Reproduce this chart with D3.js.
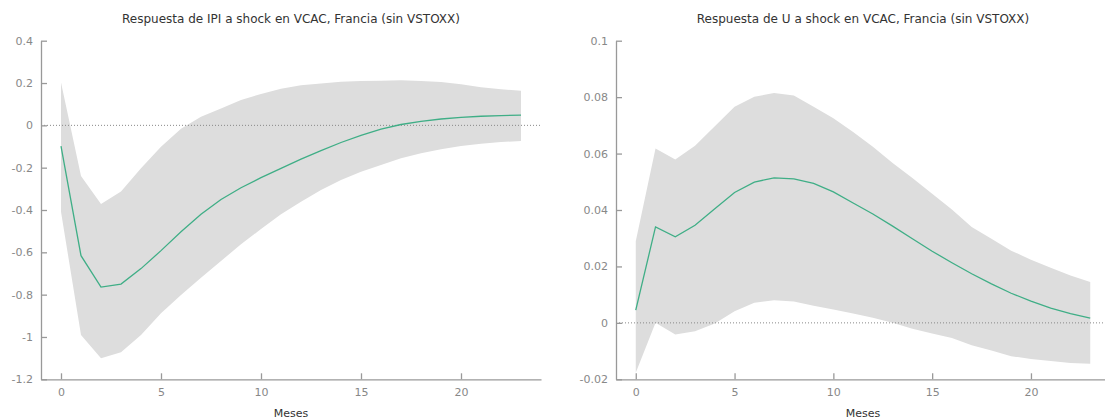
<!DOCTYPE html>
<meta charset='utf-8'>
<head>
  <title>Respuesta a shock en VCAC, Francia</title>
  <style>
    body { margin: 0; background: #fff; }
    svg { display: block; overflow: hidden; }
    text { font-family: 'DejaVu Sans', Verdana, sans-serif; }
  </style>
</head>
<body>
  <div id='chart'></div>
</body>
<script src='https://d3js.org/d3.v7.min.js'></script>
<script>

// horizonte en meses
var meses = d3.range(24);
var xTicks = [0, 5, 10, 15, 20];

// respuesta de IPI
var ipiMedia = [-0.098, -0.616, -0.764, -0.750, -0.677, -0.592, -0.503, -0.420, -0.350, -0.295,
                -0.247, -0.203, -0.160, -0.119, -0.081, -0.047, -0.018, 0.004, 0.019, 0.030,
                0.038, 0.043, 0.046, 0.048];
var ipiSup = [0.203, -0.239, -0.372, -0.313, -0.203, -0.101, -0.016, 0.041, 0.080, 0.120,
              0.148, 0.173, 0.189, 0.198, 0.206, 0.209, 0.211, 0.213, 0.209, 0.205,
              0.194, 0.180, 0.170, 0.164];
var ipiInf = [-0.408, -0.991, -1.101, -1.072, -0.991, -0.888, -0.802, -0.720, -0.641, -0.562,
              -0.490, -0.420, -0.361, -0.306, -0.258, -0.219, -0.187, -0.156, -0.132, -0.113,
              -0.098, -0.087, -0.079, -0.074];
var ipiTicks = [-1.2, -1, -0.8, -0.6, -0.4, -0.2, 0, 0.2, 0.4];

// respuesta de U
var uMedia = [0.0045, 0.0340, 0.0305, 0.0346, 0.0404, 0.0462, 0.0499, 0.0514, 0.0510, 0.0494,
              0.0464, 0.0425, 0.0386, 0.0343, 0.0298, 0.0254, 0.0213, 0.0174, 0.0138, 0.0105,
              0.0077, 0.0052, 0.0033, 0.0017];
var uSup = [0.0289, 0.0618, 0.0579, 0.0628, 0.0697, 0.0766, 0.0801, 0.0815, 0.0806, 0.0766,
            0.0725, 0.0676, 0.0624, 0.0567, 0.0513, 0.0458, 0.0402, 0.0340, 0.0298, 0.0256,
            0.0224, 0.0195, 0.0168, 0.0145];
var uInf = [-0.0177, 0.0000, -0.0041, -0.0030, -0.0002, 0.0041, 0.0071, 0.0080, 0.0076, 0.0061,
            0.0047, 0.0033, 0.0018, 0.0000, -0.0021, -0.0038, -0.0054, -0.0079, -0.0098, -0.0118,
            -0.0128, -0.0135, -0.0142, -0.0145];
var uTicks = [-0.02, 0, 0.02, 0.04, 0.06, 0.08, 0.1];

var width = 1105,
    height = 419,
    plotTop = 40.7,
    plotBottom = 379.3;

var svg = d3.select('#chart').append('svg')
    .attr('width', width)
    .attr('height', height);

var panels = [
  { title: 'Respuesta de IPI a shock en VCAC, Francia (sin VSTOXX)',
    left: 41, right: 541, media: ipiMedia, sup: ipiSup, inf: ipiInf,
    yDomain: [-1.2, 0.4], yTicks: ipiTicks },
  { title: 'Respuesta de U a shock en VCAC, Francia (sin VSTOXX)',
    left: 616, right: 1110, media: uMedia, sup: uSup, inf: uInf,
    yDomain: [-0.02, 0.1], yTicks: uTicks }
];

panels.forEach(function(p) {
  var x = d3.scaleLinear().domain([-1, 24]).range([p.left, p.right]),
      y = d3.scaleLinear().domain(p.yDomain).range([plotBottom, plotTop]);

  var g = svg.append('g');

  var rows = meses.map(function(m, i) {
    return { m: m, media: p.media[i], sup: p.sup[i], inf: p.inf[i] };
  });

  g.append('path')
      .datum(rows)
      .attr('fill', '#dddddd')
      .attr('d', d3.area()
          .x(function(d) { return x(d.m); })
          .y0(function(d) { return y(d.inf); })
          .y1(function(d) { return y(d.sup); }));

  g.append('line')
      .attr('x1', p.left).attr('x2', p.right)
      .attr('y1', y(0)).attr('y2', y(0))
      .attr('stroke', '#888')
      .attr('stroke-width', 1)
      .attr('stroke-dasharray', '1,2');

  g.append('path')
      .datum(rows)
      .attr('fill', 'none')
      .attr('stroke', '#3fae86')
      .attr('stroke-width', 1.3)
      .attr('d', d3.line()
          .x(function(d) { return x(d.m); })
          .y(function(d) { return y(d.media); }));

  var yAxis = g.append('g')
      .attr('transform', 'translate(' + p.left + ',0)')
      .call(d3.axisLeft(y).tickValues(p.yTicks).tickSize(-6).tickSizeOuter(0)
          .tickPadding(8).tickFormat(function(d) { return String(d); }));

  var xAxis = g.append('g')
      .attr('transform', 'translate(0,' + plotBottom + ')')
      .call(d3.axisBottom(x).tickValues(xTicks).tickSize(-6).tickSizeOuter(0)
          .tickPadding(9));

  [yAxis, xAxis].forEach(function(a) {
    a.select('.domain').attr('stroke', '#999').attr('stroke-width', 1.3);
    a.selectAll('.tick line').attr('stroke', '#999').attr('stroke-width', 1.3);
    a.selectAll('.tick text')
        .attr('fill', '#888')
        .style('font-size', '11px')
        .style('font-family', "'DejaVu Sans', Verdana, sans-serif");
  });

  var cx = (p.left + p.right) / 2;

  g.append('text')
      .attr('x', cx).attr('y', 23)
      .attr('text-anchor', 'middle')
      .attr('fill', '#333')
      .style('font-size', '12px')
      .text(p.title);

  g.append('text')
      .attr('x', cx).attr('y', 417)
      .attr('text-anchor', 'middle')
      .attr('fill', '#333')
      .style('font-size', '11px')
      .text('Meses');
});

</script>
